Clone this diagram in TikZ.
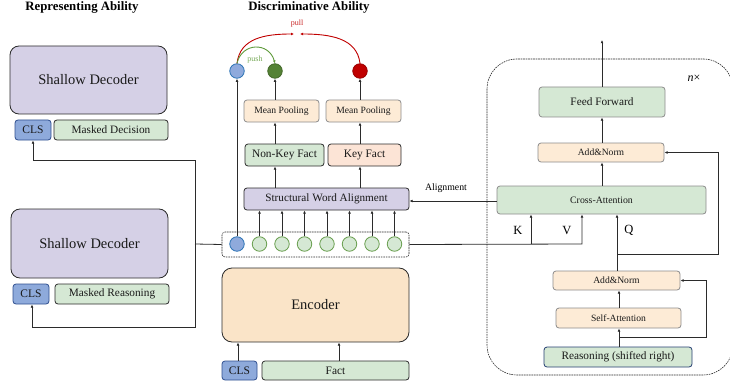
\documentclass[tikz,border=0pt]{standalone}
\usepackage{fontspec}
\setmainfont{Liberation Serif}
\usetikzlibrary{arrows.meta}
\definecolor{lav}{HTML}{D5D0E6}
\definecolor{clsb}{HTML}{8EAADB}
\definecolor{clsd}{HTML}{2F4F8F}
\definecolor{lgr}{HTML}{D5E8D4}
\definecolor{lor}{HTML}{FDEBD6}
\definecolor{enc}{HTML}{FAE4C8}
\definecolor{kfc}{HTML}{FCE4D6}
\definecolor{tokg}{HTML}{6A9F50}
\definecolor{dgr}{HTML}{548235}
\definecolor{pushc}{HTML}{5E9A3A}
\definecolor{redc}{HTML}{C00000}
\definecolor{bcf}{HTML}{8FAADC}
\definecolor{bcd}{HTML}{2E75B6}
\definecolor{ln}{HTML}{2B2B2B}
\definecolor{gb}{HTML}{8C8C8C}
\tikzset{
  box/.style={draw=ln, line width=0.8pt, rounded corners=3pt, inner sep=0pt, align=center, text=black!90},
  sbox/.style={box, draw=gb},
  arr/.style={draw=ln, line width=0.8pt, -{Latex[length=3.2pt,width=2.8pt]}},
  ln/.style={draw=ln, line width=0.8pt},
  tok/.style={circle, draw=tokg, fill=lgr, line width=0.8pt, minimum size=14.5pt, inner sep=0pt},
  dot/.style={circle, line width=0.8pt, minimum size=14.5pt, inner sep=0pt},
  fs/.style={font=\fontsize{#1}{#1}\selectfont},
  bfs/.style={font=\fontsize{#1}{#1}\selectfont\bfseries},
  fdash/.style={dash pattern=on 1.6pt off 0.9pt, line width=0.6pt},
}
\begin{document}
\begin{tikzpicture}[x=1pt,y=-1pt]
\useasboundingbox (0,0) rectangle (730,385);
\begin{scope}
\clip (0,0) rectangle (730,385);
\draw[draw=ln, fdash, rounded corners=30pt] (487,59) rectangle (733,375);
\end{scope}

% titles
\node[bfs=12.8] (t1) at (82,7) {Representing Ability};
\node[bfs=12.8] (t2) at (309,7) {Discriminative Ability};

% left decoders
\node[box, fill=lav, rounded corners=9pt, minimum width=157pt, minimum height=68pt, fs=14.5] (sd1) at (88.5,80) {Shallow Decoder};
\node[box, fill=clsb, draw=clsd, minimum width=36pt, minimum height=20pt, fs=11.5] (cls1) at (33,130) {CLS};
\node[box, fill=lgr, minimum width=114pt, minimum height=20pt, fs=11.3] (md) at (111,130) {Masked Decision};
\node[box, fill=lav, rounded corners=9pt, minimum width=157pt, minimum height=69pt, fs=14.5] (sd2) at (89.5,243.5) {Shallow Decoder};
\node[box, fill=clsb, draw=clsd, minimum width=36pt, minimum height=20pt, fs=11.5] (cls2) at (31,294) {CLS};
\node[box, fill=lgr, minimum width=114pt, minimum height=20pt, fs=11.3] (mr) at (112,294) {Masked Reasoning};

% middle
\node[dot, fill=bcf, draw=bcd] (bc) at (237,71) {};
\node[dot, fill=dgr, draw=dgr!80!black] (gc) at (275,71) {};
\node[dot, fill=redc, draw=redc!80!black] (rc) at (360,71) {};
\node[sbox, fill=lor, minimum width=75pt, minimum height=22pt, fs=9.6] (mp1) at (281.5,111) {Mean Pooling};
\node[sbox, fill=lor, minimum width=75pt, minimum height=22pt, fs=9.6] (mp2) at (363.5,111) {Mean Pooling};
\node[box, fill=lgr, minimum width=79pt, minimum height=22pt, fs=11.4] (nk) at (284.5,155) {Non-Key Fact};
\node[box, fill=kfc, minimum width=73pt, minimum height=22pt, fs=11.4] (kf) at (364.5,155) {Key Fact};
\node[box, fill=lav, minimum width=165pt, minimum height=22pt, fs=11.2] (swa) at (326.5,199) {Structural Word Alignment};
\node[box, draw=ln, fdash, minimum width=187pt, minimum height=25pt] (tokbox) at (315.5,244.5) {};
\node[dot, fill=bcf, draw=bcd] (t0) at (237,244) {};
\foreach \i in {1,...,7} {
  \node[tok] (tk\i) at ({237+22.5*\i},244) {};
  \draw[arr] (tk\i.north) -- (tk\i.north |- swa.south);
}
\node[box, fill=enc, rounded corners=10pt, minimum width=187pt, minimum height=74pt, fs=14.5] (encoder) at (315.5,305) {Encoder};
\node[box, fill=clsb, draw=clsd, minimum width=35pt, minimum height=19pt, fs=11.5] (cls3) at (239.5,370.5) {CLS};
\node[box, fill=lgr, minimum width=147pt, minimum height=19pt, fs=11.4] (fact) at (335.5,370.5) {Fact};

\draw[arr] (cls3.north -| 238,0) -- (encoder.south -| 238,0);
\draw[arr] (fact.north -| 339,0) -- (encoder.south -| 339,0);
\draw[arr] (t0.north) -- (bc.south);
\draw[arr] (swa.north -| gc) -- (nk.south -| gc);
\draw[arr] (nk.north -| gc) -- (mp1.south -| gc);
\draw[arr] (mp1.north -| gc) -- (gc.south);
\draw[arr] (swa.north -| rc) -- (kf.south -| rc);
\draw[arr] (kf.north -| rc) -- (mp2.south -| rc);
\draw[arr] (mp2.north -| rc) -- (rc.south);

% push / pull
\coordinate (pl) at (294,34);
\coordinate (pr) at (300,34);
\draw[draw=redc, line width=0.9pt, -{Latex[length=3pt,width=2.8pt]}] (bc.north) .. controls (240,38) and (265,34) .. (pl);
\draw[draw=redc, line width=0.9pt, -{Latex[length=3pt,width=2.8pt]}] (rc.north) .. controls (357,38) and (330,34) .. (pr);
\draw[draw=pushc, line width=0.9pt, -{Latex[length=3pt,width=2.8pt]}] (bc.north) .. controls (242,42) and (269,42) .. (gc.north);
\node[fs=8, text=redc!85] (pull) at (297,24) {pull};
\node[fs=8, text=pushc!85] (push) at (255,60) {push};

% left connections
\coordinate (jl) at (195,244);
\coordinate (ju) at (195,160);
\coordinate (jd) at (195,327);
\draw[ln] (tokbox.west) -- (jl);
\draw[arr] (jl) -- (ju) -| (cls1.south);
\draw[arr] (jl) -- (jd) -| (cls2.south -| 32,0);

% right decoder
\node[sbox, fill=lgr, minimum width=126pt, minimum height=30pt, fs=11.3] (ff) at (602,102) {Feed Forward};
\node[sbox, fill=lor, minimum width=126pt, minimum height=19pt, fs=9.6] (an1) at (601,152.5) {Add\&Norm};
\node[sbox, fill=lgr, minimum width=209pt, minimum height=28pt, fs=9.8] (ca) at (601.5,200) {Cross-Attention};
\node[sbox, fill=lor, minimum width=127pt, minimum height=19pt, fs=9.6] (an2) at (616.5,280.5) {Add\&Norm};
\node[sbox, fill=lor, minimum width=125pt, minimum height=20pt, fs=9.6] (sa) at (618.5,318) {Self-Attention};
\node[box, fill=lgr, draw=clsd!80!black, minimum width=148pt, minimum height=20pt, fs=11.3] (rs) at (618,357) {Reasoning (shifted right)};
\node[fs=12] (nx) at (694,78) {\itshape n\upshape ×};

\coordinate (top) at (602,40);
\draw[arr] (ff.north -| top) -- (top);
\draw[arr] (an1.north -| top) -- (ff.south -| top);
\draw[arr] (ca.north -| top) -- (an1.south -| top);
\coordinate (qb) at (617,254);
\coordinate (qr) at (718,254);
\draw[arr] (an2.north -| qb) -- (ca.south -| qb);
\draw[arr] (qb) -- (qr) |- (an1.east);
\coordinate (sb) at (619,337);
\coordinate (sr) at (706,337);
\draw[arr] (rs.north -| sb) -- (sa.south -| sb);
\draw[arr] (sa.north -| sb) -- (an2.south -| sb);
\draw[arr] (sb) -- (sr) |- (an2.east);

% K V
\coordinate (vb) at (582,244);
\coordinate (kb) at (531,244);
\draw[arr] (tokbox.east) -- (vb) -- (ca.south -| vb);
\draw[arr] (kb) -- (ca.south -| kb);
\node[fs=12.5] (K) at (518,230) {K};
\node[fs=12.5] (V) at (567,230) {V};
\node[fs=12.5] (Q) at (629,230) {Q};

% alignment
\draw[arr] (ca.west |- 0,201) -- (swa.east |- 0,201);
\node[fs=9.8] (al) at (446,188) {Alignment};
\end{tikzpicture}
\end{document}
